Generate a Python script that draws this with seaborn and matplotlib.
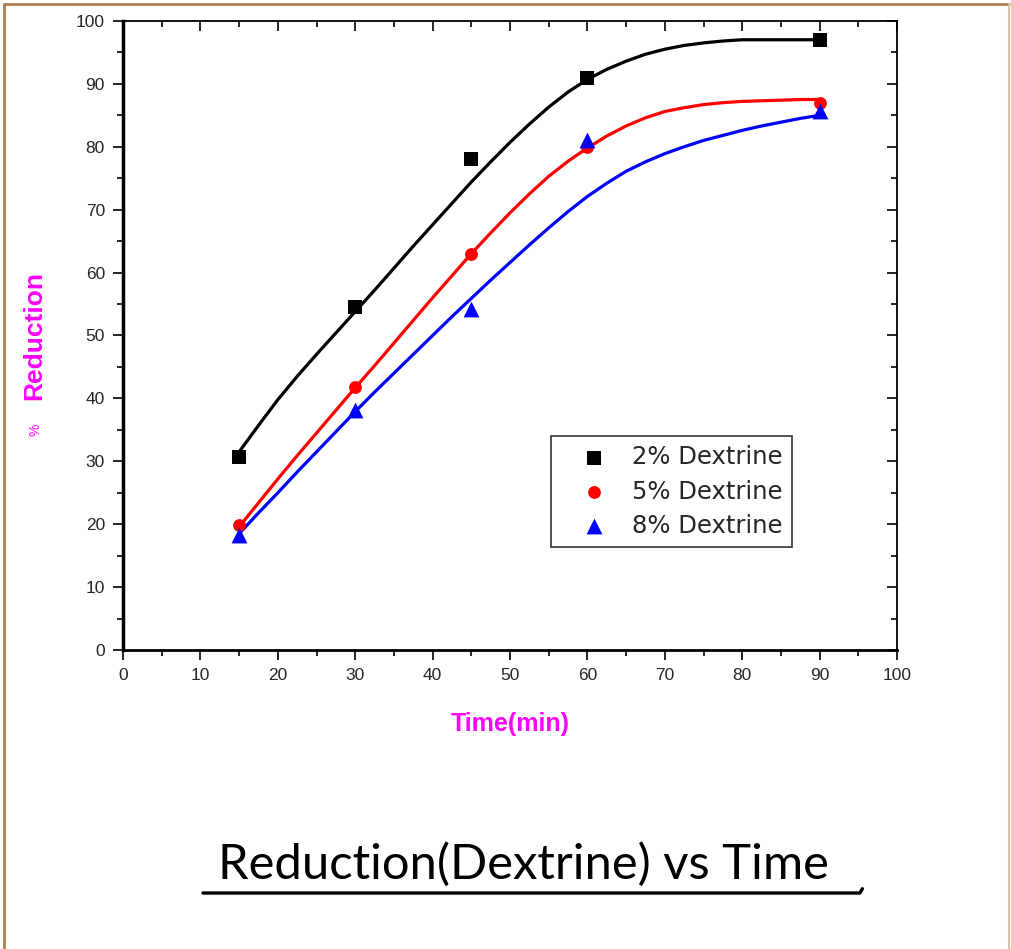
import numpy as np
import pandas as pd
import seaborn as sns
import matplotlib.pyplot as plt
from matplotlib.lines import Line2D
from matplotlib.ticker import MultipleLocator

# measured points
time_pts = [15, 30, 45, 60, 90]
dex2 = [30.7, 54.5, 78.0, 91.0, 97.0]
dex5 = [19.8, 41.8, 63.0, 80.0, 87.0]
dex8 = [18.3, 38.2, 54.2, 81.0, 85.6]

# fitted curves, every 2.5 min
fit_time = [15, 17.5, 20, 22.5, 25, 27.5, 30, 32.5, 35, 37.5, 40, 42.5, 45, 47.5, 50, 52.5,
            55, 57.5, 60, 62.5, 65, 67.5, 70, 72.5, 75, 77.5, 80, 82.5, 85, 87.5, 90]
fit2 = [31.5, 35.7, 39.8, 43.5, 47.0, 50.4, 53.8, 57.2, 60.7, 64.2, 67.6, 71.0, 74.4, 77.6, 80.7, 83.6,
        86.3, 88.7, 90.7, 92.3, 93.6, 94.7, 95.5, 96.1, 96.5, 96.8, 97.0, 97.0, 97.0, 97.0, 97.0]
fit5 = [19.6, 23.4, 27.2, 30.9, 34.5, 38.1, 41.7, 45.2, 48.8, 52.4, 56.0, 59.5, 63.0, 66.3, 69.5, 72.5,
        75.3, 77.7, 79.8, 81.7, 83.3, 84.6, 85.6, 86.2, 86.7, 87.0, 87.2, 87.3, 87.4, 87.5, 87.5]
fit8 = [18.5, 21.8, 25.0, 28.3, 31.5, 34.7, 37.9, 41.0, 44.0, 47.0, 50.0, 53.0, 55.9, 58.8, 61.6, 64.4,
        67.1, 69.7, 72.1, 74.2, 76.1, 77.6, 78.9, 80.0, 81.0, 81.8, 82.6, 83.3, 83.9, 84.5, 85.0]

labels = ['2% Dextrine', '5% Dextrine', '8% Dextrine']
colors = ['black', 'red', 'blue']
markers = ['s', 'o', '^']

sns.set_style('white')
plt.rcParams['font.family'] = ['Liberation Sans', 'DejaVu Sans']

fig = plt.figure(figsize=(10.11, 9.49), dpi=100)
ax = fig.add_axes([0.1217, 0.315, 0.7656, 0.663])

for fit, pts, lab, col, mk, ms in zip([fit2, fit5, fit8], [dex2, dex5, dex8], labels, colors, markers, [95, 85, 130]):
    sns.lineplot(x=fit_time, y=fit, color=col, lw=2.3, ax=ax, legend=False,
                 solid_joinstyle='round')
    sns.scatterplot(x=time_pts, y=pts, color=col, marker=mk, s=ms, edgecolor=col,
                    linewidth=0, label=lab, ax=ax, zorder=3)

ax.set_xlim(0, 100)
ax.set_ylim(0, 100)
ax.xaxis.set_major_locator(MultipleLocator(10))
ax.xaxis.set_minor_locator(MultipleLocator(5))
ax.yaxis.set_major_locator(MultipleLocator(10))
ax.yaxis.set_minor_locator(MultipleLocator(5))
ax.tick_params(which='both', bottom=True, left=True, top=True, right=True, direction='out', color='black')
ax.tick_params(which='major', length=7, width=1.2, labelsize=12.5, pad=6)
ax.tick_params(which='minor', length=4, width=1.2)
# top and right ticks point inwards
for t in ax.xaxis.get_majorticklines()[1::2] + ax.xaxis.get_minorticklines()[1::2]:
    t.set_marker(3)
for t in ax.yaxis.get_majorticklines()[1::2] + ax.yaxis.get_minorticklines()[1::2]:
    t.set_marker(0)
for sp in ax.spines.values():
    sp.set_color('black')
    sp.set_linewidth(1.3)
ax.spines['left'].set_linewidth(2.5)
ax.spines['bottom'].set_linewidth(2)
ax.set_xlabel('')
ax.set_ylabel('')

leg = ax.legend(loc='upper left', bbox_to_anchor=(0.553, 0.340), frameon=True, fancybox=False,
                prop={'family': 'DejaVu Sans', 'size': 17.5}, handletextpad=0.15, borderpad=0.38,
                labelspacing=0.42, borderaxespad=0, handlelength=2.8, markerscale=1.0)
leg.get_frame().set_edgecolor('black')
leg.get_frame().set_linewidth(1.2)

fig.text(0.505, 0.237, 'Time(min)', color='#ff00ff', fontsize=18, fontweight='bold',
         ha='center', va='center')
fig.text(0.034, 0.646, 'Reduction', color='#ff00ff', fontsize=19, fontweight='bold',
         rotation=90, ha='center', va='center')
fig.text(0.035, 0.547, '%', color='#ff00ff', fontsize=10,
         rotation=90, ha='center', va='center')

fig.text(0.2156, 0.0738, 'Reduction(Dextrine) vs Time', fontsize=35.3, family='Lato',
         ha='left', va='baseline', color='black')
fig.add_artist(Line2D([0.2008, 0.8506, 0.853], [0.059, 0.059, 0.0635], color='black', lw=2.4,
                      transform=fig.transFigure))

# brown frame round the picture
brown = '#b08050'
fig.add_artist(Line2D([0.004, 0.004], [0.0, 0.996], color=brown, lw=2, transform=fig.transFigure))
fig.add_artist(Line2D([0.004, 0.998], [0.996, 0.996], color=brown, lw=2, transform=fig.transFigure))
fig.add_artist(Line2D([0.998, 0.998], [0.0, 0.996], color='#d8c0a0', lw=1.5, transform=fig.transFigure))

fig.savefig('out.png', dpi=100)
